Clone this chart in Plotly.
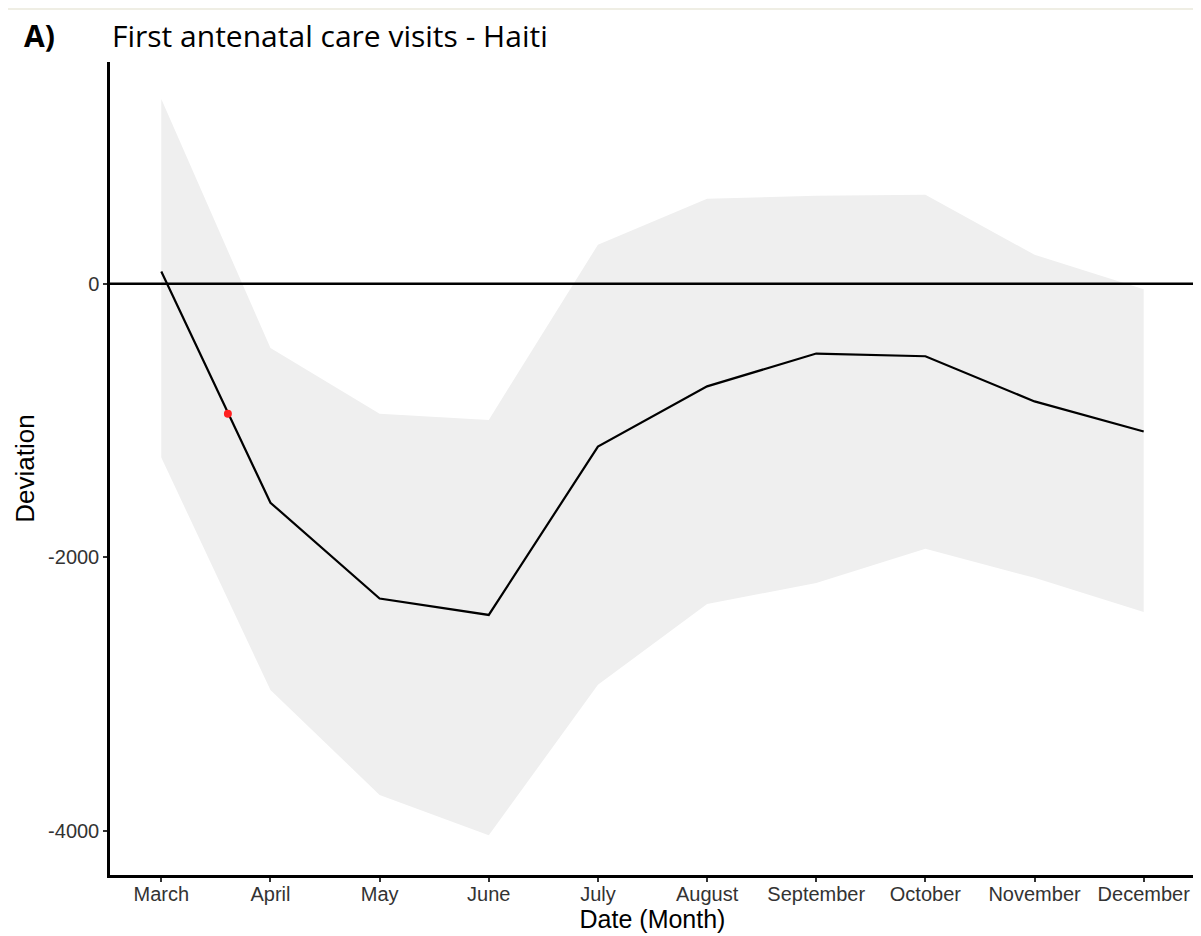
import plotly.graph_objects as go

months = ["March", "April", "May", "June", "July", "August",
          "September", "October", "November", "December"]
deviation = [90, -1600, -2300, -2420, -1190, -750, -510, -530, -860, -1080]
upper = [1350, -470, -950, -995, 285, 620, 643, 650, 212, -40]
lower = [-1270, -2968, -3735, -4030, -2930, -2340, -2186, -1937, -2149, -2398]
marker_x = [0.61]
marker_y = [-950]
ytick_vals = [0, -2000, -4000]

xpos = list(range(len(months)))

# page offset (browser body margin) compensated via margins
W, H = 1193, 928
ML, MR, MT, MB = 102, 6, 54, 61
PW = W - ML - MR
PH = H - MT - MB

fig = go.Figure()
fig.add_trace(go.Scatter(x=xpos, y=upper, mode="lines", line=dict(width=0),
                         showlegend=False, hoverinfo="skip"))
fig.add_trace(go.Scatter(x=xpos, y=lower, mode="lines", line=dict(width=0),
                         fill="tonexty", fillcolor="#efefef",
                         showlegend=False, hoverinfo="skip"))
fig.add_trace(go.Scatter(x=xpos, y=deviation, mode="lines",
                         line=dict(color="black", width=2.2), showlegend=False))
fig.add_trace(go.Scatter(x=marker_x, y=marker_y, mode="markers",
                         marker=dict(color="#ff2020", size=8), showlegend=False))

fig.update_layout(
    width=W, height=H,
    margin=dict(l=ML, r=MR, t=MT, b=MB),
    paper_bgcolor="white", plot_bgcolor="white",
    font=dict(family="Liberation Sans, Arial", color="black"),
    xaxis=dict(range=[-0.47, 9.47], tickvals=xpos, ticktext=months,
               showgrid=False, zeroline=False, showline=True,
               linecolor="black", linewidth=2.5, ticks="outside",
               ticklen=4, tickcolor="#333", tickwidth=1.5,
               ticklabelstandoff=-5,
               tickfont=dict(size=20, color="#333"),
               title=dict(text="Date (Month)", font=dict(size=25), standoff=0)),
    yaxis=dict(range=[-4320, 1620], tickvals=ytick_vals,
               ticktext=[str(v) for v in ytick_vals],
               showgrid=False, zeroline=False, showline=True,
               linecolor="black", linewidth=2.5, ticks="outside",
               ticklen=4, tickcolor="#333", tickwidth=1.5,
               tickfont=dict(size=20, color="#333"),
               title=dict(text="Deviation", font=dict(size=26), standoff=6)),
    annotations=[
        dict(text="<b>A)</b>", xref="paper", yref="paper", x=-88 / PW, y=1 + 26 / PH,
             xanchor="left", yanchor="middle", showarrow=False,
             font=dict(family="Open Sans", size=30, color="black")),
        dict(text="First antenatal care visits - Haiti", xref="paper", yref="paper",
             x=0, y=1 + 26 / PH, xanchor="left", yanchor="middle", showarrow=False,
             font=dict(family="Open Sans", size=30, color="black")),
    ],
)
fig.add_shape(type="line", xref="paper", yref="y", x0=0, x1=1, y0=0, y1=0,
              line=dict(color="black", width=2.5), layer="above")
fig.add_shape(type="rect", xref="paper", yref="paper",
              x0=-ML / PW, x1=1 + MR / PW, y0=1 + (MT - 2) / PH, y1=1 + MT / PH,
              fillcolor="#efeee4", line=dict(width=0), layer="below")

fig.write_html("out.html")
